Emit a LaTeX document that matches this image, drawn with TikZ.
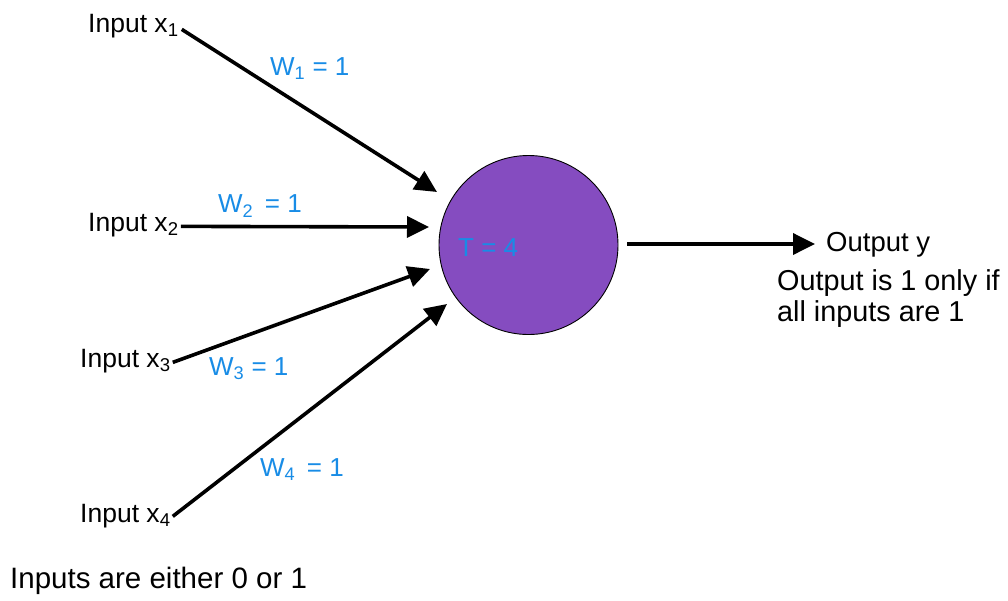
\documentclass[tikz,border=0pt]{standalone}
\usepackage{fontspec}
\setmainfont{Liberation Sans}
\usetikzlibrary{arrows.meta}
\definecolor{neuronfill}{RGB}{133,76,192}
\definecolor{weightblue}{RGB}{24,140,230}
\tikzset{
  lbl/.style={inner sep=0pt, anchor=west, font=\fontsize{26.5}{30}\selectfont},
  wlbl/.style={lbl, text=weightblue, font=\fontsize{26}{30}\selectfont},
  bigtxt/.style={inner sep=0pt, anchor=west, font=\fontsize{29.5}{31}\selectfont},
  link/.style={line width=3.6pt, -{Triangle[length=22pt,width=21pt]}},
}
\begin{document}
\begin{tikzpicture}[x=1pt,y=-1pt]
\useasboundingbox (0,0) rectangle (1008,600);

% neuron
\node[circle, minimum size=179pt, inner sep=0pt, fill=neuronfill, draw=black, line width=0.9pt] (neuron) at (528.5,245) {};
\node[wlbl] (thr) at (458,248) {T = 4};

% inputs
\node[lbl] (in1) at (88,26) {Input x\textsubscript{1}};
\node[lbl] (in2) at (88,225) {Input x\textsubscript{2}};
\node[lbl] (in3) at (80,361) {Input x\textsubscript{3}};
\node[lbl] (in4) at (80,516) {Input x\textsubscript{4}};

% arrow tips next to the neuron
\coordinate (t1) at (437,192);
\coordinate (t2) at (429,227);
\coordinate (t3) at (430,269);
\coordinate (t4) at (447,304);

\draw[link] ([xshift=3pt,yshift=3pt]in1.base east) -- (t1);
\draw[link] ([xshift=2pt,yshift=5pt]in2.base east) -- (t2);
\draw[link] ([xshift=2pt,yshift=5pt]in3.base east) -- (t3);
\draw[link] ([xshift=2pt,yshift=6pt]in4.base east) -- (t4);

% weights
\node[wlbl] (w1) at (270,69) {W\textsubscript{1} = 1};
\node[wlbl] (w2) at (218,206) {W\textsubscript{2}\, = 1};
\node[wlbl] (w3) at (209,369) {W\textsubscript{3} = 1};
\node[wlbl] (w4) at (260,470) {W\textsubscript{4}\, = 1};

% output
\node[lbl, font=\fontsize{27.5}{30}\selectfont] (out) at (826,245) {Output y};
\coordinate (o0) at (627,244);
\coordinate (o1) at (815,244);
\draw[link] (o0) -- (o1);
\node[bigtxt, align=left, font=\fontsize{28.8}{31}\selectfont] (note) at (777,299) {Output is 1 only if\\all inputs are 1};
\node[bigtxt] (foot) at (10,581) {Inputs are either 0 or 1};
\end{tikzpicture}
\end{document}
